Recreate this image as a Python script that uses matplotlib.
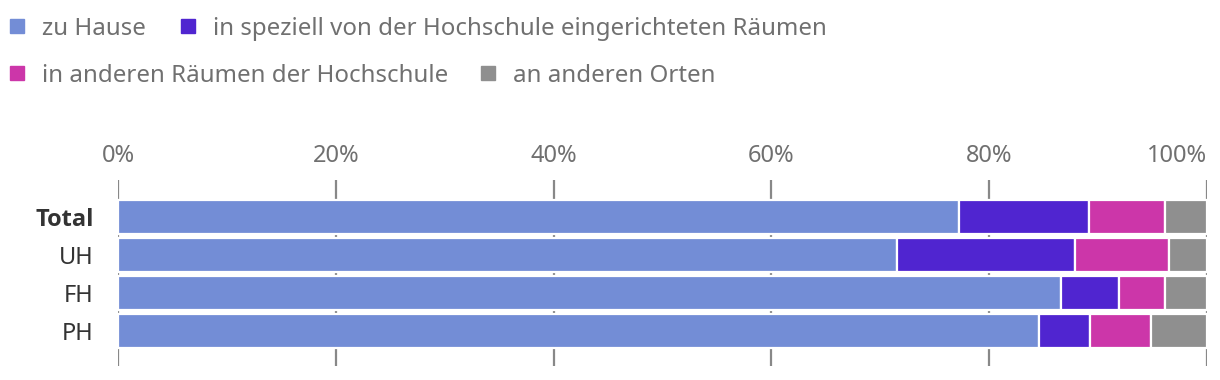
import matplotlib
matplotlib.use('Agg')
import matplotlib.pyplot as plt
import numpy as np
from matplotlib.patches import Rectangle

plt.rcParams['font.family'] = ['Noto Sans', 'DejaVu Sans']

groups = ['Total', 'UH', 'FH', 'PH']
series = ['zu Hause', 'in speziell von der Hochschule eingerichteten Räumen',
          'in anderen Räumen der Hochschule', 'an anderen Orten']
zu_hause = [77.2, 71.5, 86.6, 84.6]
speziell = [12.0, 16.4, 5.3, 4.7]
andere_raeume = [6.9, 8.6, 4.2, 5.6]
andere_orte = [3.9, 3.5, 3.9, 5.1]
colors = ['#738dd6', '#5025d0', '#cc36a9', '#8f8f8f']

W, H = 1220, 380
fig = plt.figure(figsize=(W / 100, H / 100), dpi=100)
ax = fig.add_axes([118 / W, (H - 366) / H, (1207 - 118) / W, (366 - 180) / H])

y = np.arange(len(groups))
left = np.zeros(len(groups))
for values, color in zip([zu_hause, speziell, andere_raeume, andere_orte], colors):
    ax.barh(y, values, left=left, height=0.92, color=color, edgecolor='white',
            linewidth=1.6, zorder=3)
    left += np.array(values)

ax.set_xlim(0, 100)
ax.set_ylim(3 + 35 / 38, -37 / 38)
ax.xaxis.tick_top()
ticks = [0, 20, 40, 60, 80, 100]
ax.set_xticks(ticks, [f'{t}%' for t in ticks])
ax.tick_params(axis='x', length=0, pad=9, labelsize=17, labelcolor='#707070')
ax.set_yticks(y, [''] * len(groups))
ax.tick_params(axis='y', length=0)
ax.grid(axis='x', color='#888888', linewidth=1.6, zorder=0)
ax.grid(axis='y', visible=False)
for s in ax.spines.values():
    s.set_visible(False)
fig.canvas.draw()
ax.get_xticklabels()[-1].set_horizontalalignment('right')

# group labels drawn as text so Total can be bold
for i, g in enumerate(groups):
    bold = g == 'Total'
    ax.text(-24 / 1089 * 100, i, g, ha='right', va='center_baseline', fontsize=17,
            color='#333333', fontweight='bold' if bold else 'normal',
            family=['Open Sans', 'Noto Sans', 'DejaVu Sans'] if bold else None)

# legend, two rows
legend_pos = [(10, 26), (181, 26), (10, 73), (481, 73)]
for (lx, ly), label, color in zip(legend_pos, series, colors):
    fig.patches.append(Rectangle((lx / W, (H - ly - 7) / H), 14 / W, 14 / H,
                                 transform=fig.transFigure, color=color))
    fig.text((lx + 32) / W, (H - ly) / H, label, fontsize=17.3, color='#707070',
             va='center_baseline', ha='left')

fig.savefig('out.png', dpi=100, facecolor='white')
